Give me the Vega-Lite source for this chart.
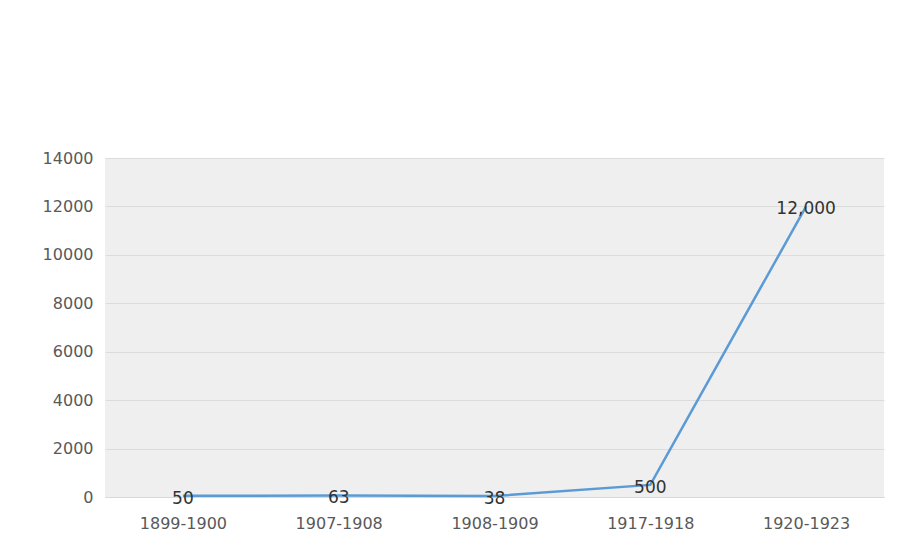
{
  "$schema": "https://vega.github.io/schema/vega-lite/v6.json",
  "autosize": {"type": "none"},
  "width": 779,
  "height": 339,
  "padding": {"left": 105, "top": 158, "right": 16, "bottom": 53},
  "background": "white",
  "config": {
    "view": {"fill": "#efefef", "stroke": null},
    "font": "DejaVu Sans"
  },
  "data": {
    "values": [
      {"period": "1899-1900", "value": 50},
      {"period": "1907-1908", "value": 63},
      {"period": "1908-1909", "value": 38},
      {"period": "1917-1918", "value": 500},
      {"period": "1920-1923", "value": 12000}
    ]
  },
  "encoding": {
    "x": {
      "field": "period", "type": "ordinal", "sort": null,
      "scale": {"paddingInner": 0, "paddingOuter": 0.5},
      "axis": {"title": null, "labelAngle": 0, "ticks": false, "domainColor": "#d9d9d9", "domainWidth": 1, "labelColor": "#595959", "labelFontSize": 16, "labelPadding": 18, "grid": false}
    },
    "y": {
      "field": "value", "type": "quantitative",
      "scale": {"domain": [0, 14000], "nice": false},
      "axis": {"title": null, "values": [0, 2000, 4000, 6000, 8000, 10000, 12000, 14000], "format": "d", "ticks": false, "domain": false, "labelColor": "#595959", "labelFontSize": 16, "labelPadding": 12, "gridColor": "#dcdcdc", "gridWidth": 1}
    }
  },
  "layer": [
    {"mark": {"type": "line", "color": "#5b9bd5", "strokeWidth": 2.5}},
    {"mark": {"type": "text", "fontSize": 17, "color": "#333333", "baseline": "middle", "align": "center", "dy": 3},
     "encoding": {"text": {"field": "value", "type": "quantitative", "format": ",d"}}}
  ]
}
